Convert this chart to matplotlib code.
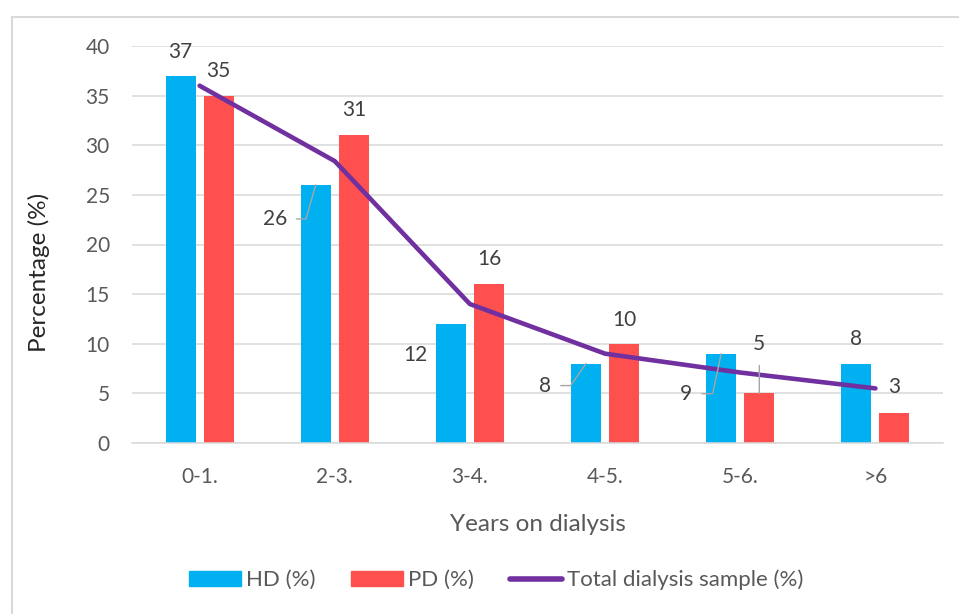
import matplotlib
matplotlib.use("Agg")
import matplotlib.pyplot as plt
import numpy as np
from matplotlib.lines import Line2D
from matplotlib.patches import Patch

plt.rcParams['font.family'] = ['Lato', 'DejaVu Sans']

categories = ["0-1.", "2-3.", "3-4.", "4-5.", "5-6.", ">6"]
hd = [37, 26, 12, 8, 9, 8]
pd_vals = [35, 31, 16, 10, 5, 3]
total = [36, 28.4, 14, 9, 7.1, 5.5]

HD_COLOR = "#00B0F0"
PD_COLOR = "#FF5050"
LINE_COLOR = "#7030A0"
GRID = "#D9D9D9"
TXT = "#595959"
LBL = "#404040"

W, H = 959, 614
fig = plt.figure(figsize=(W / 100, H / 100), dpi=100)
ax = fig.add_axes([132 / W, 1 - 443 / H, (943 - 132) / W, (443 - 46) / H])

x = np.arange(len(categories))
bw = 0.222
off = 0.141
ax.bar(x - off, hd, bw, color=HD_COLOR, zorder=2)
ax.bar(x + off, pd_vals, bw, color=PD_COLOR, zorder=2)
ax.plot(x, total, color=LINE_COLOR, lw=3.3, solid_capstyle='round',
        solid_joinstyle='round', zorder=3)

ax.set_xlim(-0.5, len(categories) - 0.5)
ax.set_ylim(0, 40)
ax.set_yticks(range(0, 41, 5))
ax.set_xticks(x)
ax.set_xticklabels(categories)
ax.grid(axis='y', color=GRID, lw=1.1, zorder=0)
for s in ['top', 'right', 'left']:
    ax.spines[s].set_visible(False)
ax.spines['bottom'].set_color(GRID)
ax.spines['bottom'].set_linewidth(1.1)
ax.tick_params(axis='both', length=0, labelsize=15, labelcolor=TXT)
ax.tick_params(axis='y', pad=16)
ax.tick_params(axis='x', pad=17)

ax.set_ylabel("Percentage (%)", fontsize=17.5, color="#262626")
ax.yaxis.set_label_coords(-0.101, 0.43)
ax.set_xlabel("Years on dialysis", fontsize=17.5, color=TXT)
ax.xaxis.set_label_coords(0.5, -0.18)

# data labels: (dx, dy) offsets in pixels, optional leader angle
hd_pos = [(0, 24, None), (-41, -34, 74), (-35, -31, None),
          (-41, -22, 55), (-35, -40, 78), (0, 25, None)]
pd_pos = [(0, 25, None), (0, 25, None), (0, 25, None),
          (0, 24, None), (0, 49, 'v'), (0, 26, None)]


def label(xv, yv, val, spec):
    dx, dy, lead = spec
    kw = dict(textcoords='offset pixels', ha='center', va='center',
              fontsize=15, color=LBL, zorder=5)
    if lead is None:
        ax.annotate(str(val), (xv, yv), xytext=(dx, dy), **kw)
    elif lead == 'v':
        ax.annotate(str(val), (xv, yv), xytext=(dx, dy),
                    arrowprops=dict(arrowstyle='-', color='#A6A6A6', lw=1,
                                    shrinkA=6, shrinkB=0, relpos=(0.5, 0)),
                    **kw)
    else:
        ax.annotate(str(val), (xv, yv), xytext=(dx, dy),
                    arrowprops=dict(arrowstyle='-', color='#A6A6A6', lw=1,
                                    shrinkA=5, shrinkB=0, relpos=(1, 0.5),
                                    connectionstyle=f"angle,angleA=0,angleB={lead},rad=0"),
                    **kw)


for i in range(len(categories)):
    label(x[i] - off, hd[i], hd[i], hd_pos[i])
    label(x[i] + off, pd_vals[i], pd_vals[i], pd_pos[i])

handles = [Patch(color=HD_COLOR, label="HD (%)"),
           Patch(color=PD_COLOR, label="PD (%)"),
           Line2D([], [], color=LINE_COLOR, lw=4, solid_capstyle='round',
                  label="Total dialysis sample (%)")]
leg = fig.legend(handles=handles, loc='center', ncol=3, frameon=False,
                 bbox_to_anchor=(496 / W, 1 - 580 / H), fontsize=16,
                 handlelength=2.34, handleheight=0.63, handletextpad=0.23,
                 columnspacing=1.6)
for t in leg.get_texts():
    t.set_color(TXT)

# chart area border (left and top visible)
fig.add_artist(Line2D([11.5 / W, 11.5 / W], [0, 1 - 16.5 / H], color=GRID,
                      lw=1.5, transform=fig.transFigure))
fig.add_artist(Line2D([11.5 / W, 1], [1 - 16.5 / H, 1 - 16.5 / H], color=GRID,
                      lw=1.5, transform=fig.transFigure))

fig.savefig("out.png", dpi=100)
